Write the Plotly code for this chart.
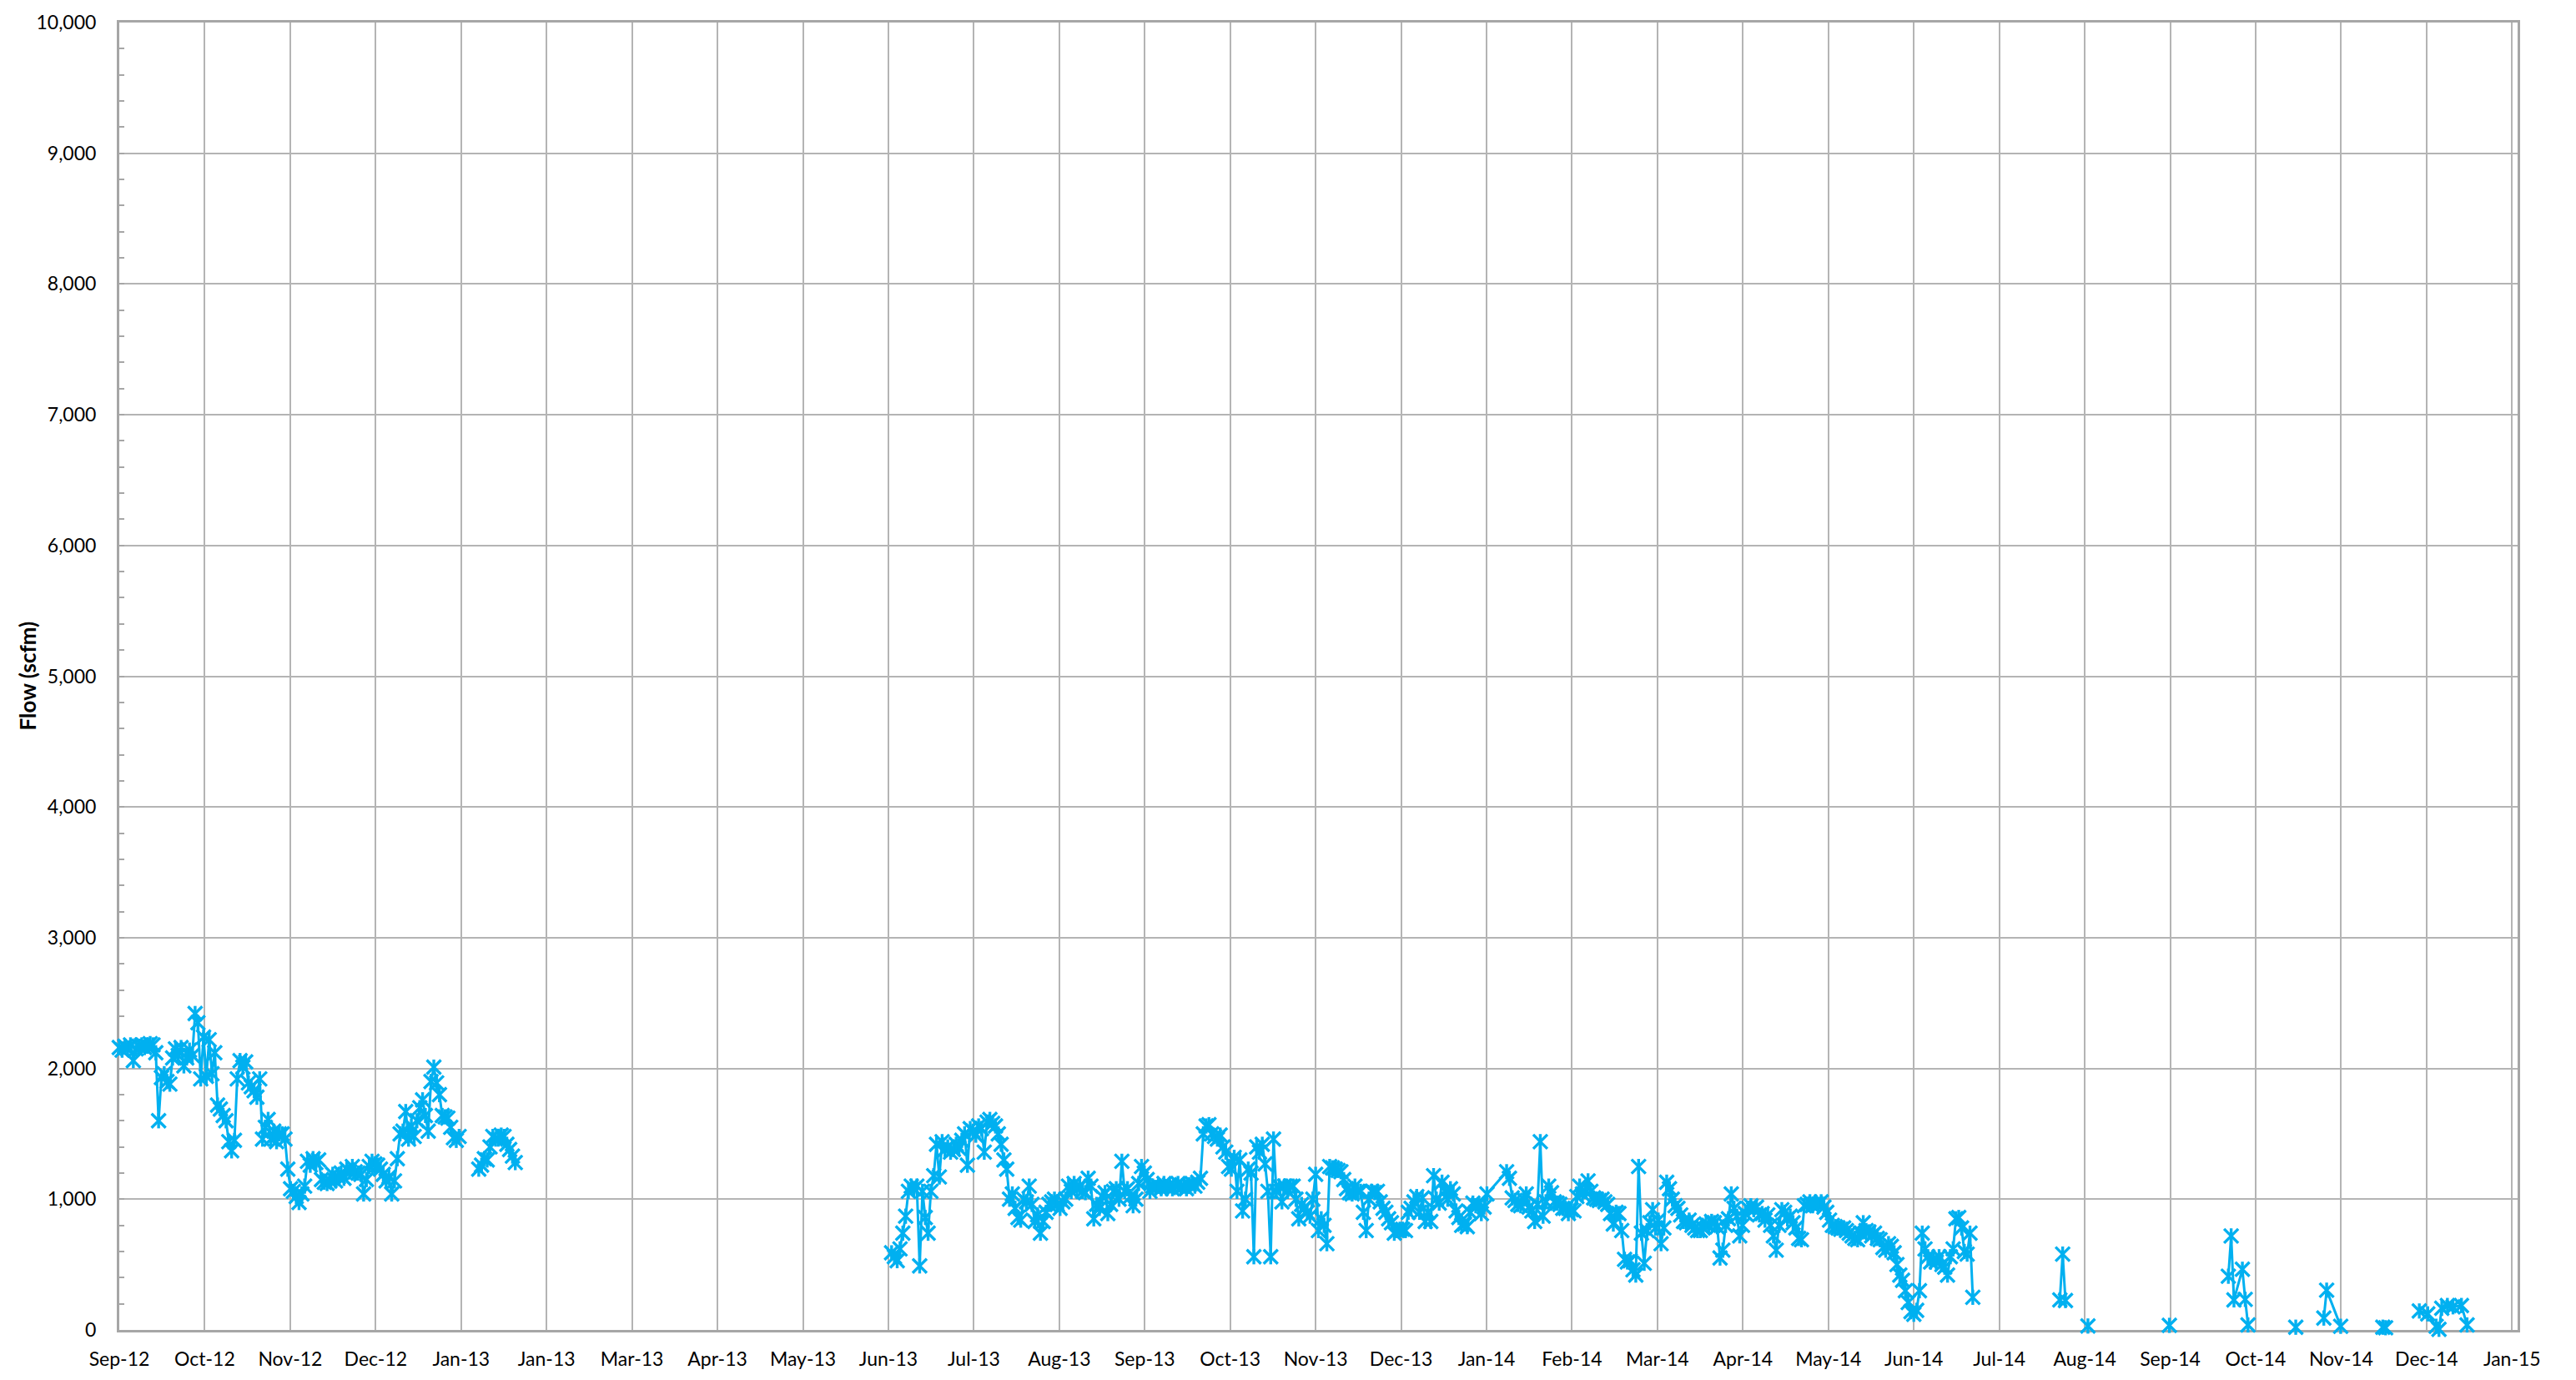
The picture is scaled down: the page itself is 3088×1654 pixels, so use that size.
import pandas as pd
import plotly.graph_objects as go

# ---------------- data (daily readings, scfm) ----------------
# None inside a segment = no reading that day (line continues across it)
seg1_start = "2012-09-01"
seg1_vals = [
    2160, 2140, 2170, 2150, 2180, 2060, 2150, 2170, 2180, 2160,
    2170, 2190, 2180, 2120, 1600, 1930, 1960, 1900, 1880, 2080,
    2150, 2100, 2160, 2020, 2080, 2140, 2100, 2420, 2350, 1920,
    2240, 1940, 2220, 1960, 2120, 1720, 1690, 1640, 1600, 1440,
    1370, 1450, 1920, 2060, 2010, 2050, 1890, 1860, 1830, 1780,
    1920, 1460, 1550, 1610, 1460, 1520, 1440, 1500, 1500, 1460,
    1230, 1080, 1060, 1020, 975, 1040, 1100, 1290, 1260, 1310,
    1280, 1300, 1150, 1130, 1120, 1140, 1190, 1140, 1170, 1200,
    1160, 1230, 1210, 1250, 1210, 1200, 1190, 1040, 1150, 1250,
    1290, 1270, 1260, 1230, 1190, 1140, 1170, 1040, 1140, 1310,
    1500, 1520, 1670, 1460, 1560, 1480, 1600, 1700, 1760, 1640,
    1520, 1900, 2010, 1890, 1800, 1640, 1630, 1620, 1550, 1470,
    1450, 1480,
]

seg2_start = "2013-01-07"
seg2_vals = [1230, 1260, 1310, 1300, 1400, 1480, 1460, 1460, 1490, 1480,
             1420, 1380, 1330, 1280]

seg3_start = "2013-06-03"
seg3_jun13 = [590, 560, 530, 620, 740, 870, 1060, 1100, 1080, 1100, 490, 1060,
              860, 740, 1060, 1180, 1420, 1170, 1440, 1380, 1400, 1360, 1380,
              1420, 1390, 1450, 1500, 1260]
seg3_jul13 = [1540, 1520, 1490, 1560, 1540, 1360, 1590, 1610, 1580, 1560, 1500,
              1420, 1300, 1230, 1000, 1040, 930, 860, 840, 1000, 980, 1100,
              960, 830, 880, 740, 830, 900, 960, 980, 1000]
seg3_aug13 = [960, 930, 980, 1000, 1100, 1060, 1120, 1080, 1100, 1060, 1050,
              1160, 1100, 850, 960, 930, 1020, 1050, 890, 960, 1060, 1080,
              1000, 1290, 1060, 1080, 1020, 950, 1000, 1120, 1250]
seg3_sep13 = [1200, 1150, 1060, 1100, 1090, 1100, 1080, 1120, 1090, 1110, 1080,
              1100, 1120, 1090, 1100, 1080, 1110, 1120, 1100, 1130, 1160, 1500,
              1560, 1570, 1500, 1480, 1460, 1490, 1400, 1360]
seg3_oct13 = [1250, 1230, 1320, 1060, 1300, 910, 1000, 1230, 1200, 560, 1400,
              1360, 1420, 1270, 1060, 560, 1460, 1060, 1100, 980, 1100, 1060,
              1100, 1100, 1000, 850, 960, 930, 900, 870, 1000]
seg3_nov13 = [1190, 760, 850, 800, 660, 1250, 1240, 1230, 1220, 1210, 1150,
              1080, 1050, 1040, 1100, 1060, 1060, 900, 760, 1000, 1060, 1050,
              1060, 980, 930, 900, 850, 820, 740, 760]
seg3_dec13 = [770, 770, 760, 900, 930, 980, 1020, 900, 1010, 830, 900, 830,
              1180, 1000, 970, 1130, 1060, 1000, 1080, 1040, 910, 860, 800,
              810, 790, 900, 970, 950, 960, 890, 940]
seg3_jan14 = [1040, None, None, None, None, None, None, 1210, 1160, 1010, 990,
              960, 950, 1000, 1040, 940, 910, 830, 960, 1440, 870, 980, 1100,
              1050, 980, 970, 960, 930, 930, 890, 920]
seg3_feb14 = [910, 1020, 1100, 1040, 1060, 1140, 1060, 1010, 1000, 990, 1000,
              980, 960, 890, 810, 900, 890, 760, 540, 520, 530, 460, 420, 1250,
              740, 510, 760, 820]
seg3_mar14 = [920, 780, 840, 660, 780, 1130, 1080, 1000, 950, 930, 880, 830,
              820, 840, 800, 780, 760, 760, 780, 810, 800, 830, 820, 790, 550,
              610, 800, 850, 1040, 930, 870]
seg3_apr14 = [720, 800, 890, 930, 950, 920, 940, 880, 890, 840, 880, 800, 720,
              610, 800, 920, 900, 850, 870, 820, 780, 700, 690, 950, 960, 980,
              950, 970, 960, 980]
seg3_may14 = [940, 900, 840, 800, 790, 780, 770, 780, 760, 740, 720, 700, 690,
              740, 820, 760, 750, 720, 740, 700, 690, 630, 610, 660, 640, 590,
              500, 420, 380, 300, 210]
seg3_jun14 = [140, 120, 150, 300, 740, 620, 560, 520, 540, 520, 560, 500, 480,
              420, 560, 620, 850, 860, 780, 600, 580, 740, 250]
seg3_vals = (seg3_jun13 + seg3_jul13 + seg3_aug13 + seg3_sep13 + seg3_oct13 +
             seg3_nov13 + seg3_dec13 + seg3_jan14 + seg3_feb14 + seg3_mar14 +
             seg3_apr14 + seg3_may14 + seg3_jun14)

seg4_start, seg4_vals = "2014-07-24", [230, 580, 225]
seg5_start, seg5_vals = "2014-08-03", [30]
seg6_start, seg6_vals = "2014-09-01", [35]
seg7_start, seg7_vals = "2014-09-22", [411, 719, 230, None, None, 464, 234, 38]
seg8_start, seg8_vals = "2014-10-16", [21]
seg9_start, seg9_vals = "2014-10-26", [91, 304, None, None, None, None, 28]
seg10_start, seg10_vals = "2014-11-16", [21, 17]
seg11_start = "2014-11-29"
seg11_vals = [145, None, None, 123, None, None, 28, 5, 166, None, 187, None,
              177, None, None, 187, None, 38]

segments = [
    (seg1_start, seg1_vals), (seg2_start, seg2_vals), (seg3_start, seg3_vals),
    (seg4_start, seg4_vals), (seg5_start, seg5_vals), (seg6_start, seg6_vals),
    (seg7_start, seg7_vals), (seg8_start, seg8_vals), (seg9_start, seg9_vals),
    (seg10_start, seg10_vals), (seg11_start, seg11_vals),
]

tick_labels = ["Sep-12", "Oct-12", "Nov-12", "Dec-12", "Jan-13", "Jan-13",
               "Mar-13", "Apr-13", "May-13", "Jun-13", "Jul-13", "Aug-13",
               "Sep-13", "Oct-13", "Nov-13", "Dec-13", "Jan-14", "Feb-14",
               "Mar-14", "Apr-14", "May-14", "Jun-14", "Jul-14", "Aug-14",
               "Sep-14", "Oct-14", "Nov-14", "Dec-14", "Jan-15"]
axis_start = "2012-09-01"
axis_last_tick = "2015-01-01"
axis_end = "2015-01-03"

# ---------------- build series ----------------
xs, ys = [], []
for start, vals in segments:
    dates = pd.date_range(start, periods=len(vals), freq="D")
    for d, v in zip(dates, vals):
        if v is not None:
            xs.append(d)
            ys.append(v)
    xs.append(dates[-1] + pd.Timedelta(hours=12))
    ys.append(None)

t0 = pd.Timestamp(axis_start)
span = (pd.Timestamp(axis_last_tick) - t0)
n_int = len(tick_labels) - 1
tick_vals = [t0 + span * k / n_int for k in range(len(tick_labels))]

BLUE = "#00B0F0"
GRID = "#B4B4B4"
AXIS = "#A6A6A6"

fig = go.Figure()
fig.add_trace(go.Scatter(
    x=xs, y=ys, mode="lines+markers", connectgaps=False, cliponaxis=False,
    line=dict(color=BLUE, width=3),
    marker=dict(symbol="x-thin-open", size=17, color=BLUE,
                line=dict(color=BLUE, width=3.4)),
    hoverinfo="x+y", showlegend=False,
))
fig.add_trace(go.Scatter(
    x=xs, y=ys, mode="markers", cliponaxis=False,
    marker=dict(symbol="line-ns-open", size=13, color=BLUE,
                line=dict(color=BLUE, width=3.4)),
    hoverinfo="skip", showlegend=False,
))

fig.update_layout(
    width=3088, height=1654,
    margin=dict(l=143, r=70, t=19, b=57),
    paper_bgcolor="white", plot_bgcolor="white",
    font=dict(family="Lato", size=23, color="black"),
    showlegend=False,
    xaxis=dict(
        type="date", range=[axis_start, axis_end],
        tickmode="array", tickvals=tick_vals, ticktext=tick_labels,
        showgrid=True, gridcolor=GRID, gridwidth=2,
        showline=True, linecolor=AXIS, linewidth=3, mirror=True,
        ticks="", ticklabelstandoff=12, zeroline=False,
        layer="below traces",
    ),
    yaxis=dict(
        range=[0, 10000], dtick=1000, tick0=0, tickformat=",d",
        showgrid=True, gridcolor=GRID, gridwidth=2,
        showline=True, linecolor=AXIS, linewidth=3, mirror=True,
        ticks="inside", ticklen=6, tickwidth=2, tickcolor=AXIS,
        minor=dict(ticks="inside", ticklen=6, tickwidth=2, tickcolor=AXIS,
                   dtick=200, showgrid=False),
        ticklabelstandoff=20, zeroline=False, layer="below traces",
    ),
    annotations=[dict(
        text="<b>Flow (scfm)</b>", xref="paper", yref="paper",
        x=-0.0386, y=0.5, xanchor="center", yanchor="middle",
        textangle=-90, showarrow=False,
        font=dict(family="Lato", size=26, color="black"),
    )],
)

fig.write_html(
    "out.html",
    config={"displayModeBar": False},
    post_script="document.body.style.margin='0';document.body.style.overflow='hidden';",
)
